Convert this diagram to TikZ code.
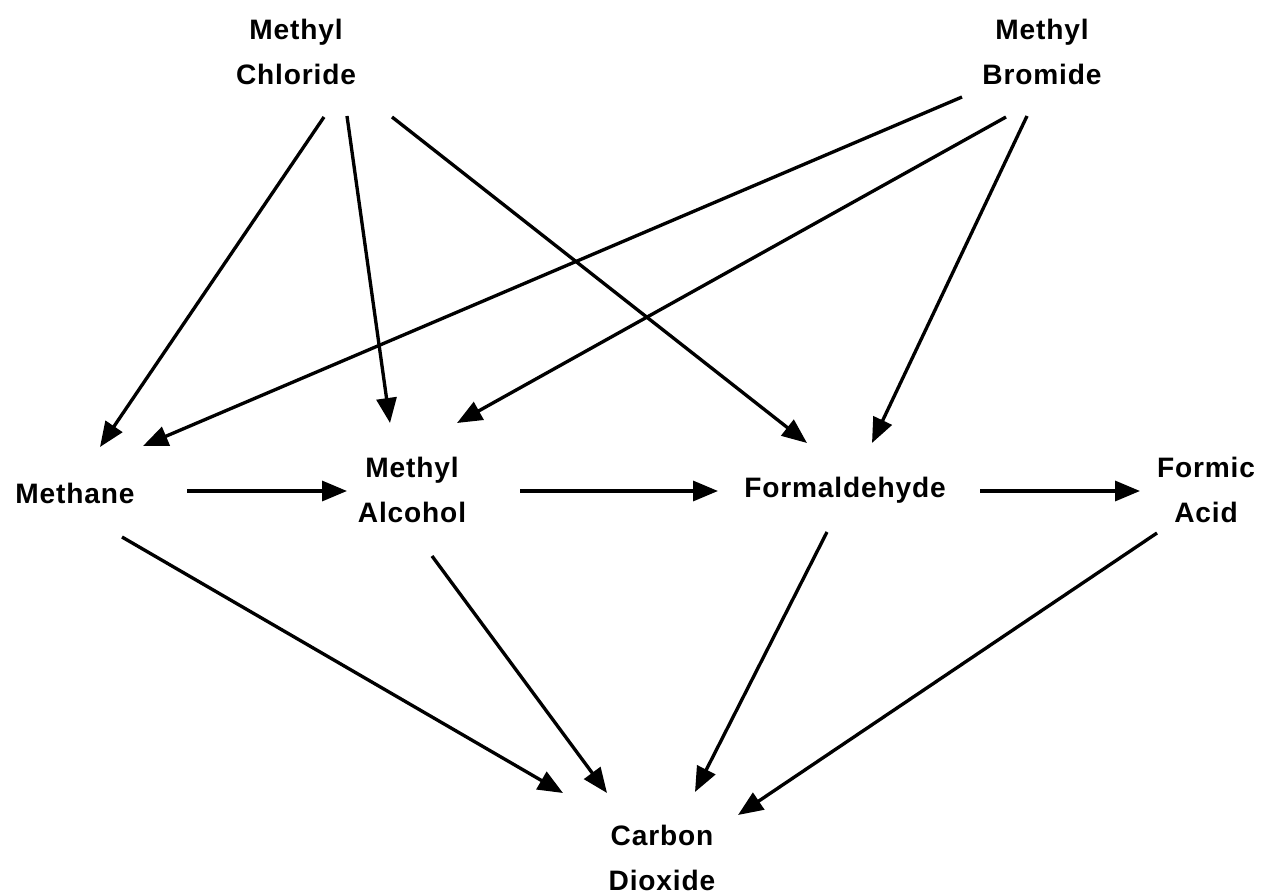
\documentclass[tikz,border=0pt]{standalone}
\usepackage{fontspec}
\setmainfont{Liberation Sans}[LetterSpace=3]
\usetikzlibrary{arrows.meta}
\begin{document}
\begin{tikzpicture}[x=0.02cm,y=-0.02cm,
  lbl/.style={align=center,inner sep=0pt,font=\bfseries\fontsize{16}{25.6}\selectfont},
  arr/.style={line width=1.9pt,-{Triangle[length=0.5cm,width=0.4cm]}}]
\useasboundingbox[fill=white] (0,0) rectangle (1268,895);
\node[lbl] (mc) at (296,52) {Methyl\\Chloride};
\node[lbl] (mb) at (1042,52) {Methyl\\Bromide};
\node[lbl] (me) at (75,493) {Methane};
\node[lbl] (ma) at (412,490) {Methyl\\Alcohol};
\node[lbl] (fo) at (845,490) {Formaldehyde};
\node[lbl] (fa) at (1206,490) {Formic\\Acid};
\node[lbl] (co) at (662,858) {Carbon\\Dioxide};
% from Methyl Chloride
\draw[arr] ([shift={(28,65)}]mc.center) -- ([shift={(25,-46)}]me.center);
\draw[arr] ([shift={(51,64)}]mc.center) -- ([shift={(-22,-67)}]ma.center);
\draw[arr] ([shift={(96,65)}]mc.center) -- ([shift={(-38,-47)}]fo.center);
% from Methyl Bromide
\draw[arr] ([shift={(-80,45)}]mb.center) -- ([shift={(68,-47)}]me.center);
\draw[arr] ([shift={(-36,65)}]mb.center) -- ([shift={(45,-67)}]ma.center);
\draw[arr] ([shift={(-15,64)}]mb.center) -- ([shift={(27,-47)}]fo.center);
% horizontal chain
\draw[arr] ([shift={(112,-2)}]me.center) -- ([shift={(-65,1)}]ma.center);
\draw[arr] ([shift={(108,1)}]ma.center) -- ([shift={(-127,1)}]fo.center);
\draw[arr] ([shift={(135,1)}]fo.center) -- ([shift={(-66,1)}]fa.center);
% to Carbon Dioxide
\draw[arr] ([shift={(47,44)}]me.center) -- ([shift={(-99,-65)}]co.center);
\draw[arr] ([shift={(20,66)}]ma.center) -- ([shift={(-55,-65)}]co.center);
\draw[arr] ([shift={(-18,42)}]fo.center) -- ([shift={(33,-66)}]co.center);
\draw[arr] ([shift={(-49,43)}]fa.center) -- ([shift={(76,-43)}]co.center);
\end{tikzpicture}
\end{document}
